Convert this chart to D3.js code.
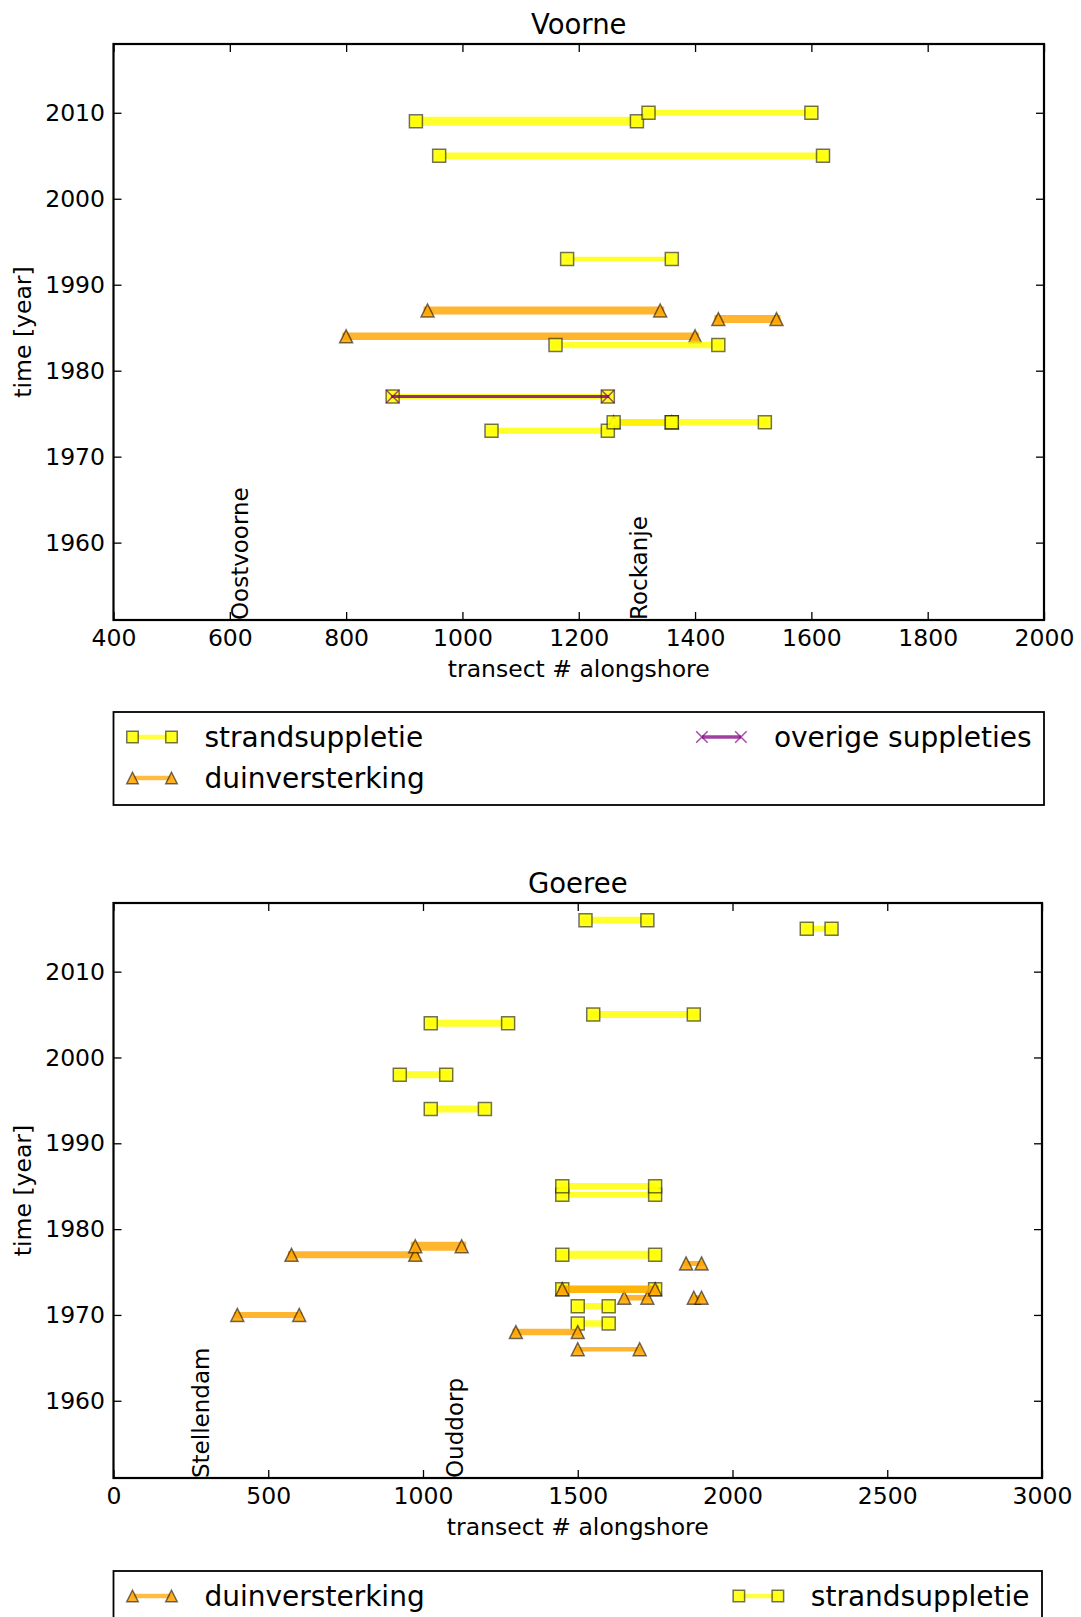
<!DOCTYPE html>
<html>
<head>
<meta charset="utf-8">
<script src="https://cdn.jsdelivr.net/npm/d3@7"></script>
<style>
body { margin: 0; background: #fff; }
text { font-family: "DejaVu Sans", sans-serif; }
</style>
</head>
<body>
<svg id="chart" width="1081" height="1617"></svg>
<script>
// ---- data: Voorne ----
var voorneStrandYear = [1973, 1974, 1974, 1977, 1983, 1993, 2005, 2009, 2010];
var voorneStrandFrom = [1050, 1260, 1360, 880, 1160, 1180, 960, 920, 1320];
var voorneStrandTo   = [1250, 1360, 1520, 1250, 1440, 1360, 1620, 1300, 1600];
var voorneStrandVol  = [6, 6.5, 6.5, 5.5, 6.5, 4.5, 6.5, 9, 6];

var voorneDuinYear = [1974, 1984, 1986, 1987];
var voorneDuinFrom = [1260, 800, 1440, 940];
var voorneDuinTo   = [1360, 1400, 1540, 1340];
var voorneDuinVol  = [6.5, 7.5, 8, 8];

var voorneOverigYear = [1977];
var voorneOverigFrom = [880];
var voorneOverigTo   = [1250];
var voorneOverigVol  = [3];

var voorneTowns = ["Oostvoorne", "Rockanje"];
var voorneTownX = [600, 1285];
var voorneXTicks = [400, 600, 800, 1000, 1200, 1400, 1600, 1800, 2000];

// ---- data: Goeree ----
var goereeStrandYear = [1969, 1971, 1973, 1977, 1984, 1985, 1994, 1998, 2004, 2005, 2015, 2016];
var goereeStrandFrom = [1500, 1500, 1450, 1450, 1450, 1450, 1025, 925, 1025, 1550, 2240, 1525];
var goereeStrandTo   = [1600, 1600, 1750, 1750, 1750, 1750, 1200, 1075, 1275, 1875, 2320, 1725];
var goereeStrandVol  = [6.5, 6.5, 7, 8, 6, 6.5, 7, 7, 7, 7, 6, 7];

var goereeDuinYear = [1966, 1968, 1970, 1972, 1972, 1973, 1976, 1977, 1978];
var goereeDuinFrom = [1500, 1300, 400, 1650, 1875, 1450, 1850, 575, 975];
var goereeDuinTo   = [1700, 1500, 600, 1725, 1900, 1750, 1900, 975, 1125];
var goereeDuinVol  = [4.5, 6.5, 6, 5.5, 5, 7.5, 5, 7, 9];

var goereeTowns = ["Stellendam", "Ouddorp"];
var goereeTownX = [250, 1070];
var goereeXTicks = [0, 500, 1000, 1500, 2000, 2500, 3000];

var yTicks = [1960, 1970, 1980, 1990, 2000, 2010];
var yDomain = [1951, 2018];

// ---- styles ----
var kinds = {
  strand: { label: "strandsuppletie", color: "#ffff00", marker: "square" },
  duin:   { label: "duinversterking", color: "#ffa500", marker: "triangle" },
  overig: { label: "overige suppleties", color: "#800080", marker: "cross" }
};
var lw = d3.scaleLinear().domain([0, 10]).range([0, 10]);
var FONT = "DejaVu Sans, sans-serif";

var svg = d3.select("#chart");

function markerPath(type, s) {
  var h = s / 2;
  if (type == "square") return "M" + (-h) + "," + (-h) + "h" + s + "v" + s + "h" + (-s) + "Z";
  if (type == "triangle") return "M0," + (-h) + "L" + h + "," + h + "L" + (-h) + "," + h + "Z";
  return "M" + (-h) + "," + (-h) + "L" + h + "," + h + "M" + (-h) + "," + h + "L" + h + "," + (-h);
}

function drawMarker(g, kind, cx, cy, s) {
  var k = kinds[kind];
  var m = g.append("path")
    .attr("d", markerPath(k.marker, s))
    .attr("transform", "translate(" + cx + "," + cy + ")");
  if (k.marker == "cross") {
    m.attr("fill", "none").attr("stroke", k.color).attr("stroke-width", 1.5).attr("opacity", 0.7);
  } else {
    m.attr("fill", k.color).attr("fill-opacity", 0.85)
      .attr("stroke", "#000").attr("stroke-opacity", 0.55).attr("stroke-width", 1.5);
  }
}

function drawPanel(p) {
  var g = svg.append("g");
  var x = d3.scaleLinear().domain(p.xDomain).range([p.left, p.right]);
  var y = d3.scaleLinear().domain(yDomain).range([p.bottom, p.top]);

  // segments, in draw order
  p.layers.forEach(function(L) {
    var k = kinds[L.kind];
    L.year.forEach(function(yr, i) {
      g.append("line")
        .attr("x1", x(L.from[i])).attr("x2", x(L.to[i]))
        .attr("y1", y(yr)).attr("y2", y(yr))
        .attr("stroke", k.color).attr("stroke-opacity", 0.82)
        .attr("stroke-width", lw(L.vol[i]))
        .attr("stroke-linecap", "square");
      drawMarker(g, L.kind, x(L.from[i]), y(yr), 13);
      drawMarker(g, L.kind, x(L.to[i]), y(yr), 13);
    });
  });

  // town names
  p.towns.forEach(function(t, i) {
    g.append("text")
      .attr("transform", "translate(" + (x(p.townX[i]) + 18.5) + "," + p.bottom + ") rotate(-90)")
      .attr("font-size", 23).attr("fill", "#000")
      .text(t);
  });

  // axes, ticks pointing inward
  function styleAxis(sel) {
    sel.attr("font-size", 23.5).attr("font-family", FONT);
    sel.select(".domain").remove();
    sel.selectAll(".tick line").attr("stroke-width", 1.3);
  }
  g.append("g").attr("transform", "translate(0," + p.bottom + ")")
    .call(d3.axisBottom(x).tickValues(p.xTicks).tickFormat(d3.format("d")).tickSize(-8).tickPadding(9.5))
    .call(styleAxis);
  g.append("g").attr("transform", "translate(0," + p.top + ")")
    .call(d3.axisTop(x).tickValues(p.xTicks).tickFormat("").tickSize(-8))
    .call(styleAxis);
  g.append("g").attr("transform", "translate(" + p.left + ",0)")
    .call(d3.axisLeft(y).tickValues(yTicks).tickFormat(d3.format("d")).tickSize(-8).tickPadding(8.5))
    .call(styleAxis);
  g.append("g").attr("transform", "translate(" + p.right + ",0)")
    .call(d3.axisRight(y).tickValues(yTicks).tickFormat("").tickSize(-8))
    .call(styleAxis);

  g.append("rect")
    .attr("x", p.left).attr("y", p.top)
    .attr("width", p.right - p.left).attr("height", p.bottom - p.top)
    .attr("fill", "none").attr("stroke", "#000").attr("stroke-width", 2.2);

  // labels
  g.append("text")
    .attr("x", (p.left + p.right) / 2).attr("y", p.top - 10)
    .attr("text-anchor", "middle").attr("font-size", 27.5)
    .text(p.title);
  g.append("text")
    .attr("x", (p.left + p.right) / 2).attr("y", p.bottom + 57)
    .attr("text-anchor", "middle").attr("font-size", 23.5)
    .text("transect # alongshore");
  g.append("text")
    .attr("transform", "translate(31," + ((p.top + p.bottom) / 2) + ") rotate(-90)")
    .attr("text-anchor", "middle").attr("font-size", 23.5)
    .text("time [year]");

  // legend
  var lg = svg.append("g");
  var rows = d3.max(p.legend, function(c) { return c.length; });
  lg.append("rect")
    .attr("x", p.left).attr("y", p.legendTop)
    .attr("width", p.right - p.left).attr("height", 25 + 41 * (rows - 1) + 27)
    .attr("fill", "#fff").attr("stroke", "#000").attr("stroke-width", 1.8);
  p.legend.forEach(function(col, ci) {
    col.forEach(function(kind, ri) {
      var k = kinds[kind];
      var cy = p.legendTop + 25 + 41 * ri;
      var t = lg.append("text").attr("y", cy + 10).attr("font-size", 28).text(k.label);
      var tx;
      if (ci == 0) tx = p.left + 91;
      else tx = p.right - 12.5 - t.node().getComputedTextLength();
      t.attr("x", tx);
      var x0 = tx - 72, x1 = tx - 33;
      lg.append("line")
        .attr("x1", x0).attr("x2", x1).attr("y1", cy).attr("y2", cy)
        .attr("stroke", k.color).attr("stroke-opacity", 0.75)
        .attr("stroke-width", kind == "overig" ? 3.5 : 4.5);
      drawMarker(lg, kind, x0, cy, 11.5);
      drawMarker(lg, kind, x1, cy, 11.5);
    });
  });
}

drawPanel({
  title: "Voorne",
  left: 113.5, right: 1044, top: 44, bottom: 620,
  xDomain: [400, 2000], xTicks: voorneXTicks,
  layers: [
    { kind: "duin", year: voorneDuinYear, from: voorneDuinFrom, to: voorneDuinTo, vol: voorneDuinVol },
    { kind: "strand", year: voorneStrandYear, from: voorneStrandFrom, to: voorneStrandTo, vol: voorneStrandVol },
    { kind: "overig", year: voorneOverigYear, from: voorneOverigFrom, to: voorneOverigTo, vol: voorneOverigVol }
  ],
  towns: voorneTowns, townX: voorneTownX,
  legendTop: 712,
  legend: [["strand", "duin"], ["overig"]]
});

drawPanel({
  title: "Goeree",
  left: 113.5, right: 1042, top: 903, bottom: 1478,
  xDomain: [0, 3000], xTicks: goereeXTicks,
  layers: [
    { kind: "strand", year: goereeStrandYear, from: goereeStrandFrom, to: goereeStrandTo, vol: goereeStrandVol },
    { kind: "duin", year: goereeDuinYear, from: goereeDuinFrom, to: goereeDuinTo, vol: goereeDuinVol }
  ],
  towns: goereeTowns, townX: goereeTownX,
  legendTop: 1571,
  legend: [["duin"], ["strand"]]
});
</script>
</body>
</html>
